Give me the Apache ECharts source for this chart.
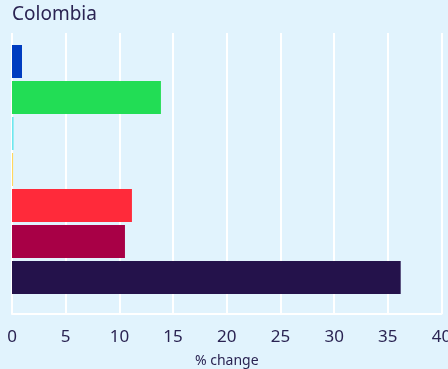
<!DOCTYPE html>
<html><head><meta charset="utf-8">
<script src="https://cdn.jsdelivr.net/npm/echarts@6/dist/echarts.min.js"></script>
<style>html,body{margin:0;padding:0;background:#e1f3fd;}#c{width:448px;height:369px;}</style>
</head><body><div id="c"></div>
<script>
const categories = ['A','B','C','D','E','F','G'];
const values = [0.93, 13.87, 0.15, 0.1, 11.17, 10.52, 36.2];
const colors = ['#003cc0', '#22dd55', '#6ee8ee', '#ffd75e', '#ff2a3a', '#a80046', '#24124b'];
const xTicks = [0, 5, 10, 15, 20, 25, 30, 35, 40];
const title = 'Colombia';
const axisName = '% change';

const chart = echarts.init(document.getElementById('c'));
const txt = '#2a2352';
chart.setOption({
  backgroundColor: '#e1f3fd',
  animation: false,
  title: {text: title, left: 7, top: 0, textStyle: {fontFamily: 'Noto Sans', fontSize: 19, fontWeight: 'normal', color: txt}},
  grid: [
    {left: 12, right: 6.5, top: 33, height: 281, outerBoundsMode: 'none', containLabel: false},
    {left: 12, right: 6.5, top: 43.5, height: 252, outerBoundsMode: 'none', containLabel: false}
  ],
  xAxis: [
    {gridIndex: 0, type: 'value', min: xTicks[0], max: xTicks[xTicks.length-1], interval: 5,
     axisLine: {show: true, onZero: false, lineStyle: {color: '#ffffff', width: 2}},
     axisTick: {show: false},
     splitLine: {show: true, lineStyle: {color: '#ffffff', width: 2}},
     axisLabel: {color: txt, fontFamily: 'Noto Sans', fontSize: 17, margin: 15},
     name: axisName, nameLocation: 'middle', nameGap: 40,
     nameTextStyle: {color: txt, fontFamily: 'Noto Sans', fontSize: 14}},
    {gridIndex: 1, type: 'value', min: xTicks[0], max: xTicks[xTicks.length-1], show: false}
  ],
  yAxis: [
    {gridIndex: 0, type: 'value', show: false},
    {gridIndex: 1, type: 'category', data: categories, inverse: true, show: false}
  ],
  series: [{
    type: 'bar', xAxisIndex: 1, yAxisIndex: 1, barWidth: 33,
    data: values.map((v, i) => ({value: v, itemStyle: {color: colors[i]}}))
  }]
});
</script></body></html>
